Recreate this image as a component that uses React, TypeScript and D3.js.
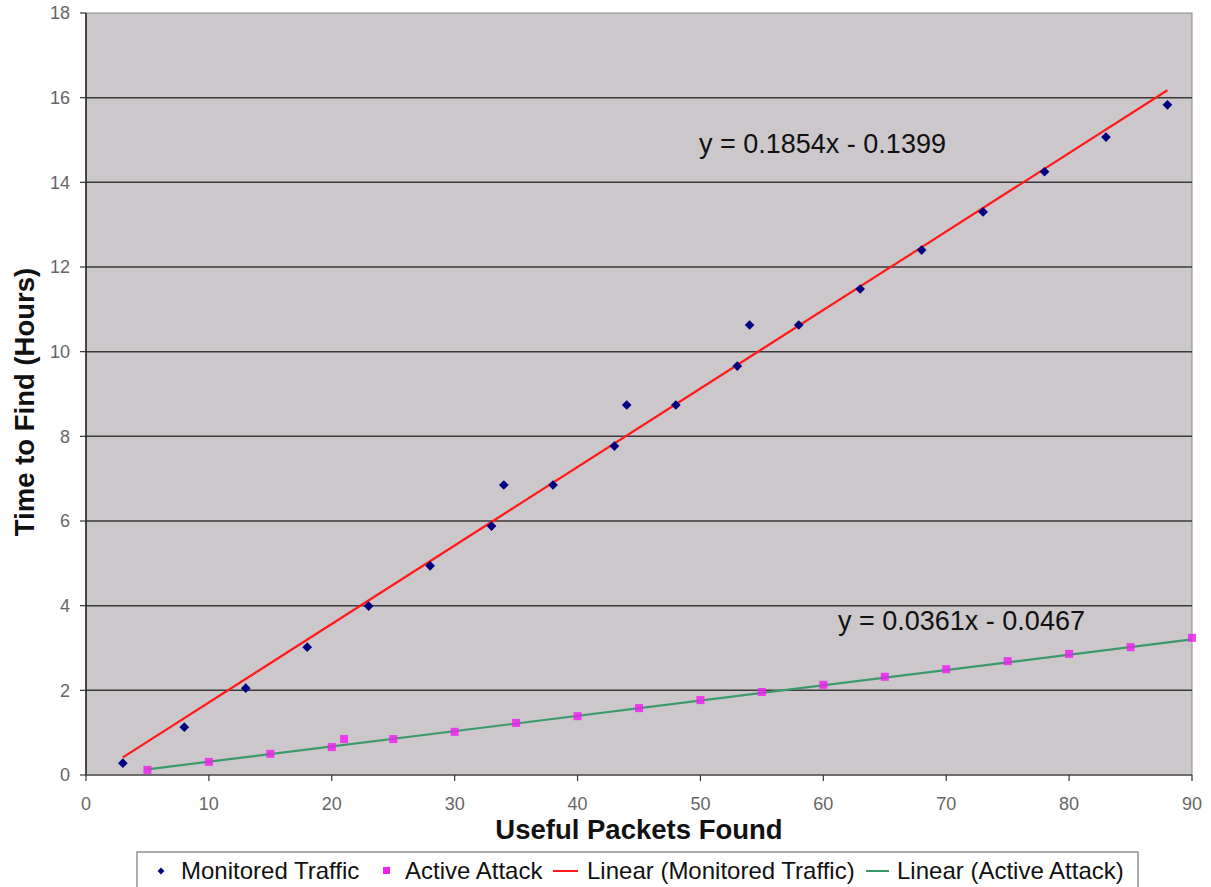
import * as d3 from "d3";

const monitoredX = [3, 8, 13, 18, 23, 28, 33, 34, 38, 43, 44, 48, 53, 54, 58, 63, 68, 73, 78, 83, 88];
const monitoredY = [0.28, 1.13, 2.05, 3.02, 3.99, 4.94, 5.88, 6.85, 6.85, 7.77, 8.74, 8.74, 9.66, 10.63, 10.63, 11.48, 12.4, 13.3, 14.25, 15.07, 15.83];

const attackX = [5, 10, 15, 20, 21, 25, 30, 35, 40, 45, 50, 55, 60, 65, 70, 75, 80, 85, 90];
const attackY = [0.12, 0.31, 0.5, 0.66, 0.85, 0.85, 1.02, 1.23, 1.39, 1.58, 1.77, 1.96, 2.13, 2.32, 2.5, 2.69, 2.86, 3.02, 3.24];

const xTicks = [0, 10, 20, 30, 40, 50, 60, 70, 80, 90];
const yTicks = [0, 2, 4, 6, 8, 10, 12, 14, 16, 18];

const fitMonitored = { slope: 0.1854, intercept: -0.1399, label: "y = 0.1854x - 0.1399" };
const fitAttack = { slope: 0.0361, intercept: -0.0467, label: "y = 0.0361x - 0.0467" };

const W = 1211;
const H = 887;
const left = 86;
const right = 1192;
const top = 13;
const bottom = 775;

const x = d3.scaleLinear().domain([0, 90]).range([left, right]);
const y = d3.scaleLinear().domain([0, 18]).range([bottom, top]);

const font = "Arial, 'Liberation Sans', sans-serif";

const fitLine = (f: { slope: number; intercept: number }, x0: number, x1: number) =>
  d3.line<number>().x((v) => x(v)).y((v) => y(f.slope * v + f.intercept))([x0, x1]) || "";

const diamond = d3.symbol().type(d3.symbolDiamond2).size(60);

export default function App() {
  return (
    <svg width={W} height={H} style={{ position: "absolute", left: 0, top: 0, background: "#fff" }}>
      <rect x={left} y={top} width={right - left} height={bottom - top} fill="#cbc7cb" stroke="#8a8a8a" />
      {yTicks.filter((t) => t > 0 && t < 18).map((t) => (
        <line key={t} x1={left} x2={right} y1={y(t)} y2={y(t)} stroke="#3a3a3a" strokeWidth={1.5} />
      ))}
      {/* axes */}
      <line x1={left} x2={left} y1={top} y2={bottom} stroke="#222" strokeWidth={1.5} />
      <line x1={left} x2={right} y1={bottom} y2={bottom} stroke="#555" strokeWidth={1.5} />
      {yTicks.map((t) => (
        <g key={t}>
          <line x1={left - 6} x2={left} y1={y(t)} y2={y(t)} stroke="#333" strokeWidth={1.2} />
          <text x={left - 16} y={y(t)} dy="0.35em" textAnchor="end" fontFamily={font} fontSize={18} fill="#666">{t}</text>
        </g>
      ))}
      {xTicks.map((t) => (
        <g key={t}>
          <line x1={x(t)} x2={x(t)} y1={bottom} y2={bottom + 6} stroke="#333" strokeWidth={1.2} />
          <text x={x(t)} y={bottom + 35} textAnchor="middle" fontFamily={font} fontSize={18} fill="#666">{t}</text>
        </g>
      ))}
      {/* trend lines */}
      <path d={fitLine(fitMonitored, 3, 88)} stroke="#ff1a1a" strokeWidth={2.2} fill="none" />
      <path d={fitLine(fitAttack, 5, 90)} stroke="#3a9a6a" strokeWidth={2.2} fill="none" />
      {/* points */}
      {attackX.map((v, i) => (
        <rect key={i} x={x(v) - 4} y={y(attackY[i]) - 4} width={8} height={8} fill="#ee22ee" opacity={0.85} />
      ))}
      {monitoredX.map((v, i) => (
        <path key={i} d={diamond() || ""} transform={`translate(${x(v)},${y(monitoredY[i])})`} fill="#000080" />
      ))}
      <text x={699} y={153} fontFamily={font} fontSize={27} fill="#111">{fitMonitored.label}</text>
      <text x={838} y={630} fontFamily={font} fontSize={27} fill="#111">{fitAttack.label}</text>
      {/* titles */}
      <text x={639} y={839} textAnchor="middle" fontFamily={font} fontSize={27.5} fontWeight="bold" fill="#111">Useful Packets Found</text>
      <text transform={`translate(34,402) rotate(-90)`} textAnchor="middle" fontFamily={font} fontSize={27.5} fontWeight="bold" fill="#111">Time to Find (Hours)</text>
      {/* legend */}
      <rect x={137} y={852} width={1001} height={40} fill="#fff" stroke="#777" strokeWidth={1.2} />
      <path d={d3.symbol().type(d3.symbolDiamond2).size(30)() || ""} transform="translate(161,871)" fill="#000080" />
      <text x={181} y={879} fontFamily={font} fontSize={24} fill="#111">Monitored Traffic</text>
      <rect x={383} y={867} width={7} height={7} fill="#ee22ee" />
      <text x={405} y={879} fontFamily={font} fontSize={24} fill="#111">Active Attack</text>
      <line x1={553} x2={578} y1={871} y2={871} stroke="#ff1a1a" strokeWidth={2} />
      <text x={587} y={879} fontFamily={font} fontSize={24} fill="#111">Linear (Monitored Traffic)</text>
      <line x1={866} x2={889} y1={871} y2={871} stroke="#3a9a6a" strokeWidth={2} />
      <text x={897} y={879} fontFamily={font} fontSize={24} fill="#111">Linear (Active Attack)</text>
    </svg>
  );
}
